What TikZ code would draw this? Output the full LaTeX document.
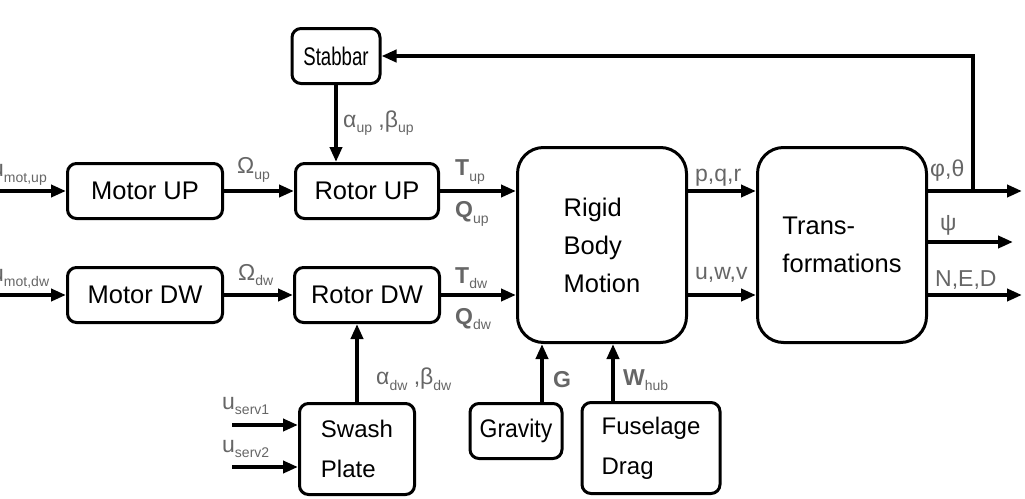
\documentclass[tikz,border=0pt]{standalone}
\usepackage{fontspec}
\usepackage{graphicx}
\setmainfont{Liberation Sans}
\usetikzlibrary{arrows.meta, positioning}
\newcommand{\lo}[1]{\raisebox{-0.45ex}{\fontsize{14}{14}\selectfont #1}}

\begin{document}
\begin{tikzpicture}[x=1pt,y=-1pt,>={Triangle[length=15pt,width=12pt]},
  block/.style={draw,line width=3pt,rounded corners=9pt,inner sep=0pt,
    font=\fontsize{25.5}{38}\selectfont},
  bigblock/.style={block,rounded corners=26pt,align=left,
    minimum width=169pt,minimum height=195pt},
  lbl/.style={anchor=west,inner sep=0pt,text=black!60,
    font=\fontsize{23}{26}\selectfont},
  sig/.style={->,line width=4pt}]
  \useasboundingbox (0,0) rectangle (1025,498);
  % blocks
  \node[block,minimum width=155pt,minimum height=55pt] (motup) at (145,191) {Motor UP};
  \node[block,minimum width=155pt,minimum height=55pt] (motdw) at (145,295) {Motor DW};
  \node[block,minimum width=143pt,minimum height=55pt] (rotup) at (367,191) {Rotor UP};
  \node[block,minimum width=145pt,minimum height=55pt] (rotdw) at (367,295) {Rotor DW};
  \node[block,minimum width=88pt,minimum height=55pt] (stab) at (336,56) {\scalebox{0.73}[1]{Stabbar}};
  \node[block,minimum width=115pt,minimum height=91pt,align=left,font=\fontsize{24}{40}\selectfont] (swash) at (357,449) {Swash\\Plate};
  \node[block,minimum width=92pt,minimum height=55pt] (grav) at (516,431) {\scalebox{0.9}[1]{Gravity}};
  \node[block,minimum width=138pt,minimum height=91pt,align=left,font=\fontsize{24}{40}\selectfont] (fus) at (651,448) {Fuselage\\Drag};
  \node[bigblock] (rbm) at (602,245) {Rigid\\Body\\Motion};
  \node[bigblock] (trans) at (842,245) {Trans-\\formations};
  % free ends
  \coordinate (inup) at (0,191);
  \coordinate (indw) at (0,295);
  \coordinate (serv1) at (232,425);
  \coordinate (serv2) at (232,467);
  \coordinate (fb) at (973,191);
  \coordinate (outang) at (1022,191);
  \coordinate (outpsi) at (1013,242);
  \coordinate (outned) at (1022,295);
  % connectors
  \draw[sig] (inup) -- (motup);
  \draw[sig] (indw) -- (motdw);
  \draw[sig] (motup) -- (rotup);
  \draw[sig] (motdw) -- (rotdw);
  \draw[sig] (rotup) -- (rotup -| rbm.west);
  \draw[sig] (rotdw) -- (rotdw -| rbm.west);
  \draw[sig] (rbm.east |- rotup) -- (trans.west |- rotup);
  \draw[sig] (rbm.east |- rotdw) -- (trans.west |- rotdw);
  \draw[sig] (trans.east |- outang) -- (outang);
  \draw[sig] (trans.east |- outpsi) -- (outpsi);
  \draw[sig] (trans.east |- outned) -- (outned);
  \draw[sig] (fb) |- (stab.east);
  \draw[sig] (stab.south) -- (stab.south |- rotup.north);
  \draw[sig] (swash.north) -- (swash.north |- rotdw.south);
  \draw[sig] (serv1) -- (serv1 -| swash.west);
  \draw[sig] (serv2) -- (serv2 -| swash.west);
  \draw[sig] ([xshift=26pt]grav.north) -- ([xshift=26pt]grav.north |- rbm.south);
  \draw[sig] ([xshift=-38pt]fus.north) -- ([xshift=-38pt]fus.north |- rbm.south);
  % signal labels
  \node[lbl] (lumotup) at (-9,175) {u\lo{mot,up}};
  \node[lbl] (lumotdw) at (-9,279) {u\lo{mot,dw}};
  \node[lbl] (lomup) at (237,170) {Ω\lo{up}};
  \node[lbl] (lomdw) at (238,275) {Ω\lo{dw}};
  \node[lbl] (ltup) at (455,172) {\textbf{T}\lo{up}};
  \node[lbl] (lqup) at (455,214) {\textbf{Q}\lo{up}};
  \node[lbl] (ltdw) at (455,278) {\textbf{T}\lo{dw}};
  \node[lbl] (lqdw) at (455,319) {\textbf{Q}\lo{dw}};
  \node[lbl] (labup) at (343,123) {α\lo{up} ,β\lo{up}};
  \node[lbl] (labdw) at (376,379) {α\lo{dw} ,β\lo{dw}};
  \node[lbl] (lgrav) at (553,380) {\textbf{G}};
  \node[lbl] (lwhub) at (623,380) {\textbf{W}\lo{hub}};
  \node[lbl] (lserv1) at (222,406) {u\lo{serv1}};
  \node[lbl] (lserv2) at (222,449) {u\lo{serv2}};
  \node[lbl] (lpqr) at (695,178) {p,q,r};
  \node[lbl] (luwv) at (695,275) {u,w,v};
  \node[lbl] (lang) at (930,171) {φ,θ};
  \node[lbl] (lpsi) at (940,225) {ψ};
  \node[lbl] (lned) at (935,280) {N,E,D};
\end{tikzpicture}
\end{document}
